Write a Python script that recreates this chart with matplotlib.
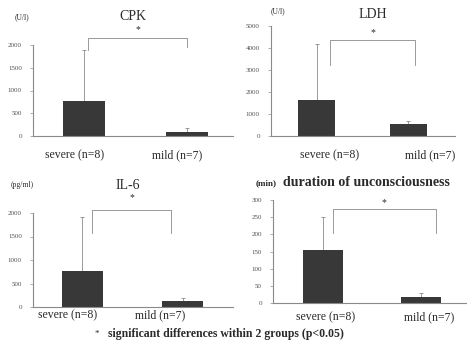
import matplotlib
matplotlib.use("Agg")
import matplotlib.pyplot as plt
from matplotlib.transforms import ScaledTranslation

categories = ["severe (n=8)", "mild (n=7)"]

cpk_mean = [770, 90]
cpk_err = [1130, 80]
cpk_ticks = [0, 500, 1000, 1500, 2000]

ldh_mean = [1650, 550]
ldh_err = [2550, 130]
ldh_ticks = [0, 1000, 2000, 3000, 4000, 5000]

il6_mean = [760, 130]
il6_err = [1150, 60]
il6_ticks = [0, 500, 1000, 1500, 2000]

dur_mean = [155, 18]
dur_err = [95, 10]
dur_ticks = [0, 50, 100, 150, 200, 250, 300]

W, H = 467, 351
fig = plt.figure(figsize=(W / 100, H / 100), dpi=100)
fig.patch.set_facecolor("white")

SERIF = ["Liberation Serif", "DejaVu Serif"]
BAR = "#383838"
LINE = "#8a8a8a"
TXT = "#2a2a2a"


def px_axes(x0, x1, y_top, y_bottom):
    return fig.add_axes([x0 / W, 1 - y_bottom / H, (x1 - x0) / W, (y_bottom - y_top) / H])


def panel(rect, means, errs, ticks, xlim, width, bracket, star_y, label_dy, shifts):
    ax = px_axes(*rect)
    xs = [0, 1]
    ax.bar(xs, means, width=width, color=BAR, zorder=2)
    ax.errorbar(xs, means, yerr=[[0, 0], errs], fmt="none", ecolor=LINE,
                elinewidth=0.6, capsize=1.5, capthick=0.6, zorder=1)
    ax.set_xlim(*xlim)
    ax.set_ylim(ticks[0], ticks[-1])
    ax.set_yticks(ticks)
    ax.set_yticklabels([str(t) for t in ticks], fontsize=5, color="#505050",
                       family=SERIF)
    ax.set_xticks([])
    for x, cat, dx in zip(xs, categories, shifts):
        tr = ax.get_xaxis_transform() + ScaledTranslation(
            dx / 100, -label_dy / 100, fig.dpi_scale_trans)
        ax.text(x, 0, cat, transform=tr, ha="center", va="center",
                fontsize=8.5, color=TXT, family=SERIF, clip_on=False)
    ax.tick_params(axis="y", length=2, width=0.5, color=LINE, pad=6)
    for s in ["top", "right"]:
        ax.spines[s].set_visible(False)
    for s in ["left", "bottom"]:
        ax.spines[s].set_color(LINE)
        ax.spines[s].set_linewidth(0.8)
    top, leg_l, leg_r, bx0, bx1 = bracket
    ax.plot([bx0, bx0, bx1, bx1], [leg_l, top, top, leg_r], color=LINE,
            lw=0.6, clip_on=False)
    ax.text((bx0 + bx1) / 2, star_y, "*", ha="center", va="center",
            fontsize=7, color=TXT, family=SERIF, clip_on=False)
    ax.patch.set_alpha(0)
    return ax


# CPK
panel((33, 233, 45, 136), cpk_mean, cpk_err, cpk_ticks,
      (-0.495, 1.447), 0.41, (2150, 1880, 1950, 0.04, 1.0), 2330, 19,
      (-9, -10))
fig.text(133 / W, 1 - 17 / H, "CPK", ha="center", va="center",
         fontsize=10, color=TXT, family=SERIF)
fig.text(22 / W, 1 - 17 / H, "(U/l)", ha="center", va="center",
         fontsize=5.5, color=TXT, family=SERIF)

# LDH
panel((271, 455, 26, 136), ldh_mean, ldh_err, ldh_ticks,
      (-0.497, 1.51), 0.40, (4360, 3230, 3230, 0.15, 1.07), 4700, 19,
      (13, 22))
fig.text(373 / W, 1 - 15 / H, "LDH", ha="center", va="center",
         fontsize=10, color=TXT, family=SERIF)
fig.text(278 / W, 1 - 11 / H, "(U/l)", ha="center", va="center",
         fontsize=5.5, color=TXT, family=SERIF)

# IL-6
panel((33, 233, 213, 307), il6_mean, il6_err, il6_ticks,
      (-0.49, 1.5), 0.41, (2064, 1574, 1574, 0.1, 0.88), 2320, 8,
      (-15, -23))
fig.text(128 / W, 1 - 185 / H, "IL-6", ha="center", va="center",
         fontsize=10, color=TXT, family=SERIF)
fig.text(22 / W, 1 - 185 / H, "(pg/ml)", ha="center", va="center",
         fontsize=5.5, color=TXT, family=SERIF)

# duration
panel((273, 466, 200, 303), dur_mean, dur_err, dur_ticks,
      (-0.51, 1.46), 0.41, (274, 204, 204, 0.1, 1.15), 291, 14,
      (3, 8))
fig.text(266 / W, 1 - 183 / H, "(min)", ha="center", va="center",
         fontsize=6.5, color=TXT, family=SERIF, weight="bold")
fig.text(283 / W, 1 - 183 / H, "duration of unconsciousness", ha="left",
         va="center", fontsize=10, color=TXT, family=SERIF, weight="bold")

# footnote
fig.text(97 / W, 1 - 334 / H, "*", ha="center", va="center",
         fontsize=6.5, color=TXT, family=SERIF)
fig.text(108 / W, 1 - 334 / H, "significant differences within 2 groups (p<0.05)",
         ha="left", va="center", fontsize=8.5, color=TXT, family=SERIF,
         weight="bold")

fig.savefig("out.png", dpi=100, facecolor="white")
